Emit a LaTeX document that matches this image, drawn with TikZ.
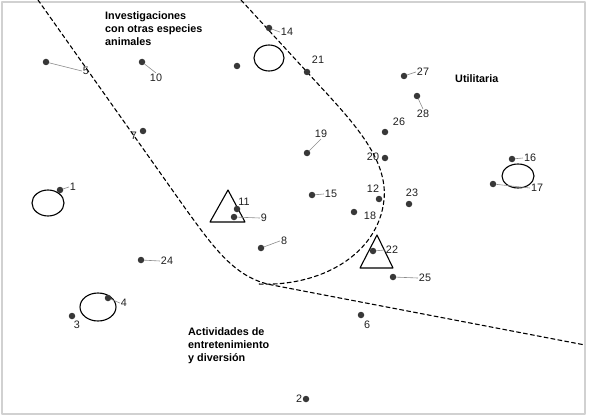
\documentclass[tikz,border=0pt]{standalone}
\usepackage{fontspec}
\setmainfont{Liberation Sans}
\begin{document}
\begin{tikzpicture}[x=1pt,y=-1pt,line cap=round,line join=round,
  dot/.style={circle,fill=black!78,inner sep=0pt,minimum size=6.5pt},
  num/.style={inner sep=1pt,text=black!88,font=\fontsize{10.8}{12}\selectfont},
  lead/.style={draw=black!45,line width=0.6pt},
  zone/.style={dashed,dash pattern=on 4pt off 3pt,line width=1.1pt},
  fig/.style={line width=1.1pt},
  area/.style={align=left,anchor=north west,inner sep=0pt,
    font=\fontsize{10.8}{13}\selectfont\bfseries}]
\useasboundingbox (0,0) rectangle (589,420);
\draw[black!18,line width=1.5pt] (2,2) rectangle (585,414);

% zonas
\draw[zone] (38,0) -- (185,208) .. controls (214,248) and (235,278) .. (272,285) -- (585,345);
\draw[zone] (241,0) -- (318,84) .. controls (355,124) and (388,160) .. (384,200)
  .. controls (378,255) and (320,287) .. (258,284);

% figuras
\draw[fig] (48,203) ellipse [x radius=16pt,y radius=13pt];
\draw[fig] (269,58) ellipse [x radius=15pt,y radius=13pt];
\draw[fig] (98,307) ellipse [x radius=18pt,y radius=14pt];
\draw[fig] (518,176) ellipse [x radius=16pt,y radius=12pt];
\draw[fig] (228,190) -- (210,222) -- (245,222) -- cycle;
\draw[fig] (377,235) -- (360,268) -- (393,268) -- cycle;

% puntos
\node[dot] (p1) at (60,190) {};
\node[dot] (p2) at (306,399) {};
\node[dot] (p3) at (72,316) {};
\node[dot] (p4) at (108,298) {};
\node[dot] (p5) at (46,62) {};
\node[dot] (p6) at (361,315) {};
\node[dot] (p7) at (143,131) {};
\node[dot] (p8) at (261,248) {};
\node[dot] (p9) at (234,217) {};
\node[dot] (p10) at (142,62) {};
\node[dot] (p11) at (237,209) {};
\node[dot] (p12) at (379,199) {};
\node[dot] (p14) at (269,28) {};
\node[dot] (p15) at (312,195) {};
\node[dot] (p16) at (512,159) {};
\node[dot] (p17) at (493,184) {};
\node[dot] (p18) at (354,212) {};
\node[dot] (p19) at (307,153) {};
\node[dot] (p20) at (385,158) {};
\node[dot] (p21) at (307,72) {};
\node[dot] (p22) at (373,251) {};
\node[dot] (p23) at (409,204) {};
\node[dot] (p24) at (141,260) {};
\node[dot] (p25) at (393,277) {};
\node[dot] (p26) at (385,132) {};
\node[dot] (p27) at (404,76) {};
\node[dot] (p28) at (417,96) {};
\node[dot] (p0) at (237,66) {};

% numeros
\node[num] (n1) at (73,187) {1};
\node[num] (n2) at (299,399) {2};
\node[num] (n3) at (77,325) {3};
\node[num] (n4) at (124,303) {4};
\node[num] (n5) at (86,71) {5};
\node[num] (n6) at (367,325) {6};
\node[num] (n7) at (134,136) {7};
\node[num] (n8) at (284,241) {8};
\node[num] (n9) at (264,218) {9};
\node[num] (n10) at (156,78) {10};
\node[num] (n11) at (244,202) {11};
\node[num] (n12) at (373,189) {12};
\node[num] (n14) at (287,32) {14};
\node[num] (n15) at (331,194) {15};
\node[num] (n16) at (530,158) {16};
\node[num] (n17) at (537,188) {17};
\node[num] (n18) at (370,216) {18};
\node[num] (n19) at (321,134) {19};
\node[num] (n20) at (373,157) {20};
\node[num] (n21) at (318,60) {21};
\node[num] (n22) at (392,250) {22};
\node[num] (n23) at (412,193) {23};
\node[num] (n24) at (167,261) {24};
\node[num] (n25) at (425,278) {25};
\node[num] (n26) at (399,122) {26};
\node[num] (n27) at (423,72) {27};
\node[num] (n28) at (423,114) {28};

% lineas guia
\draw[lead] (p1) -- (n1.west);
\draw[lead] (p4) -- (n4.west);
\draw[lead] (p5) -- (n5.west);
\draw[lead] (p8) -- (n8.west);
\draw[lead] (p9) -- (n9.west);
\draw[lead] (p10) -- (n10.north);
\draw[lead] (p14) -- (n14.west);
\draw[lead] (p15) -- (n15.west);
\draw[lead] (p16) -- (n16.west);
\draw[lead] (p17) -- (n17.west);
\draw[lead] (p19) -- (n19.south);
\draw[lead] (p22) -- (n22.west);
\draw[lead] (p24) -- (n24.west);
\draw[lead] (p25) -- (n25.west);
\draw[lead] (p27) -- (n27.west);
\draw[lead] (p28) -- (n28.north);

% areas
\node[area] (inv) at (105,11) {Investigaciones\\con otras especies\\animales};
\node[area] (uti) at (455,74) {Utilitaria};
\node[area] (act) at (188,327) {Actividades de\\entretenimiento\\y diversión};
\end{tikzpicture}
\end{document}
